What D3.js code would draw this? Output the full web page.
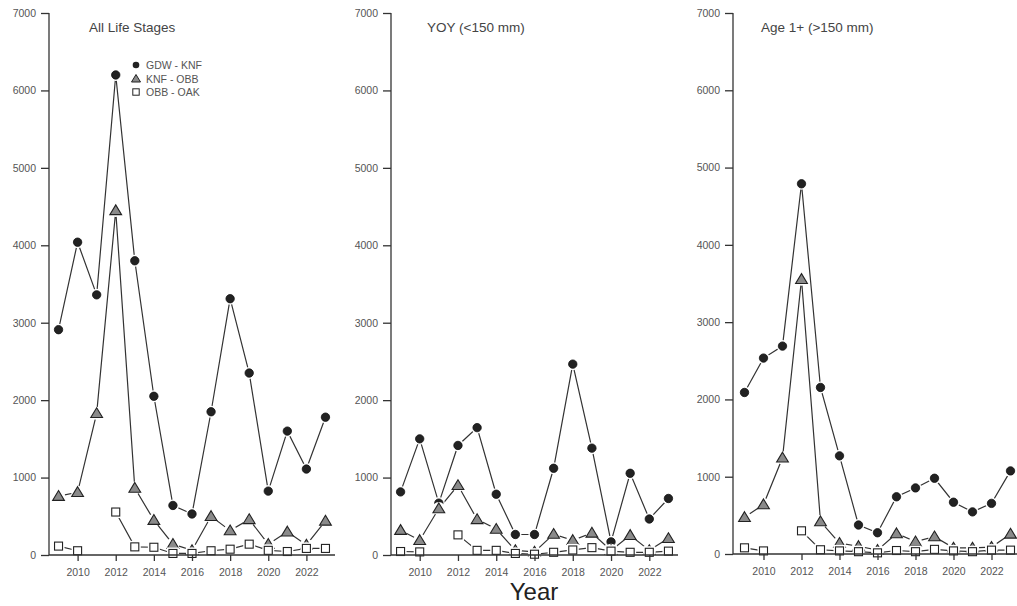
<!DOCTYPE html>
<html><head><meta charset="utf-8">
<script src="https://cdn.jsdelivr.net/npm/d3@7"></script>
<style>body{margin:0;background:#fff}svg{display:block}text{font-family:Arial,"Liberation Sans",sans-serif}</style>
</head><body>
<svg id="c" width="1017" height="606"></svg>
<script>
const years = [2009,2010,2011,2012,2013,2014,2015,2016,2017,2018,2019,2020,2021,2022,2023];
const xTicks = [2010,2012,2014,2016,2018,2020,2022];
const yTicks = [0,1000,2000,3000,4000,5000,6000,7000];
const seriesNames = ["GDW - KNF","KNF - OBB","OBB - OAK"];
const panelTitles = ["All Life Stages","YOY (<150 mm)","Age 1+ (>150 mm)"];

// All Life Stages
const allGDW = [2910,4040,3360,6200,3800,2050,640,530,1850,3310,2350,825,1600,1110,1780];
const allKNF = [760,810,1830,4450,865,450,140,60,500,315,460,140,300,130,440];
const allOBB = [115,55,null,555,105,100,20,20,55,75,140,60,45,85,85];
// YOY
const yoyGDW = [815,1500,670,1415,1645,785,265,265,1120,2465,1380,170,1055,465,730];
const yoyKNF = [320,190,600,900,460,335,60,40,270,190,285,60,255,60,215];
const yoyOBB = [45,40,null,260,60,60,20,10,35,65,95,50,35,35,50];
// Age 1+
const ageGDW = [2090,2535,2690,4790,2155,1270,375,275,740,855,980,670,545,655,1075];
const ageKNF = [475,640,1245,3555,420,140,100,50,265,160,225,80,80,90,260];
const ageOBB = [80,40,null,300,55,40,30,15,45,30,60,40,30,50,50];

const panelData = [[allGDW,allKNF,allOBB],[yoyGDW,yoyKNF,yoyOBB],[ageGDW,ageKNF,ageOBB]];
const layout = [
  {axisX:49, x0:49, x1:335, y0:555, titleX:89},
  {axisX:391, x0:391, x1:678, y0:555, titleX:427},
  {axisX:733, x0:735, x1:1020, y0:554, titleX:761}
];

const svg = d3.select("#c");
const ink = "#222";

function drawMarker(g, type, cx, cy){
  if(type===0){
    g.append("circle").attr("cx",cx).attr("cy",cy).attr("r",6).attr("fill","#fff");
    g.append("circle").attr("cx",cx).attr("cy",cy).attr("r",4.2).attr("fill",ink).attr("stroke","#111").attr("stroke-width",0.8);
  } else if(type===1){
    const s=5.6;
    g.append("circle").attr("cx",cx).attr("cy",cy).attr("r",6.5).attr("fill","#fff");
    g.append("path").attr("d",`M${cx},${cy-s}L${cx+s*1.05},${cy+s*0.75}L${cx-s*1.05},${cy+s*0.75}Z`)
      .attr("fill","#8a8a8a").attr("stroke",ink).attr("stroke-width",1.1);
  } else {
    const h=4;
    g.append("rect").attr("x",cx-6).attr("y",cy-6).attr("width",12).attr("height",12).attr("fill","#fff");
    g.append("rect").attr("x",cx-h).attr("y",cy-h).attr("width",2*h).attr("height",2*h)
      .attr("fill","#fff").attr("stroke",ink).attr("stroke-width",1.1);
  }
}

layout.forEach((L,pi)=>{
  const x = d3.scaleLinear().domain([2008.5,2023.5]).range([L.x0,L.x1]);
  const y = d3.scaleLinear().domain([0,7000]).range([L.y0,13]);
  const g = svg.append("g");

  const linesG = g.append("g");
  panelData[pi].forEach((vals,si)=>{
    const line = d3.line().defined(d=>d!=null).x((d,i)=>x(years[i])).y(d=>y(d));
    linesG.append("path").attr("d",line(vals)).attr("fill","none").attr("stroke","#333").attr("stroke-width",1.2);
  });

  const mG = g.append("g");
  panelData[pi].forEach((vals,si)=>{
    vals.forEach((v,i)=>{ if(v!=null) drawMarker(mG, si, x(years[i]), y(v)); });
  });

  const yAx = g.append("g").attr("transform",`translate(${L.axisX},0)`)
    .call(d3.axisLeft(y).tickValues(yTicks).tickFormat(d3.format("d")).tickSize(8).tickPadding(5));
  yAx.select(".domain").attr("stroke","#333").attr("stroke-width",1.3).attr("d",`M0,${y(0)}V${y(7000)}`);
  yAx.selectAll(".tick line").attr("stroke","#333").attr("stroke-width",1.3);
  yAx.selectAll(".tick text").attr("fill","#555").style("font-size","10.5px");

  const xAx = g.append("g").attr("transform",`translate(0,${L.y0})`)
    .call(d3.axisBottom(x).tickValues(xTicks).tickFormat(d3.format("d")).tickSize(6).tickPadding(8));
  xAx.select(".domain").attr("stroke","#333").attr("stroke-width",1.3).attr("d",`M${L.axisX},0H${L.x1}`);
  xAx.selectAll(".tick line").attr("stroke","#333").attr("stroke-width",1.3);
  xAx.selectAll(".tick text").attr("fill","#555").style("font-size","10.5px");

  g.append("text").attr("x",L.titleX).attr("y",32).attr("fill","#444").style("font-size","13.5px").text(panelTitles[pi]);
});

const lg = svg.append("g");
const legY = [65,79,92];
seriesNames.forEach((n,i)=>{
  const cx=136, cy=legY[i];
  if(i===0) lg.append("circle").attr("cx",cx).attr("cy",cy).attr("r",3.3).attr("fill",ink);
  else if(i===1) lg.append("path").attr("d",`M${cx},${cy-4.5}L${cx+4.5},${cy+3}L${cx-4.5},${cy+3}Z`).attr("fill","#8a8a8a").attr("stroke",ink).attr("stroke-width",1);
  else lg.append("rect").attr("x",cx-3.2).attr("y",cy-3.2).attr("width",6.4).attr("height",6.4).attr("fill","#fff").attr("stroke",ink).attr("stroke-width",1);
  lg.append("text").attr("x",146).attr("y",cy+3.5).attr("fill","#555").style("font-size","10.5px").text(n);
});

svg.append("text").attr("x",534).attr("y",600).attr("text-anchor","middle").attr("fill","#222").style("font-size","24px").text("Year");
</script>
</body></html>
